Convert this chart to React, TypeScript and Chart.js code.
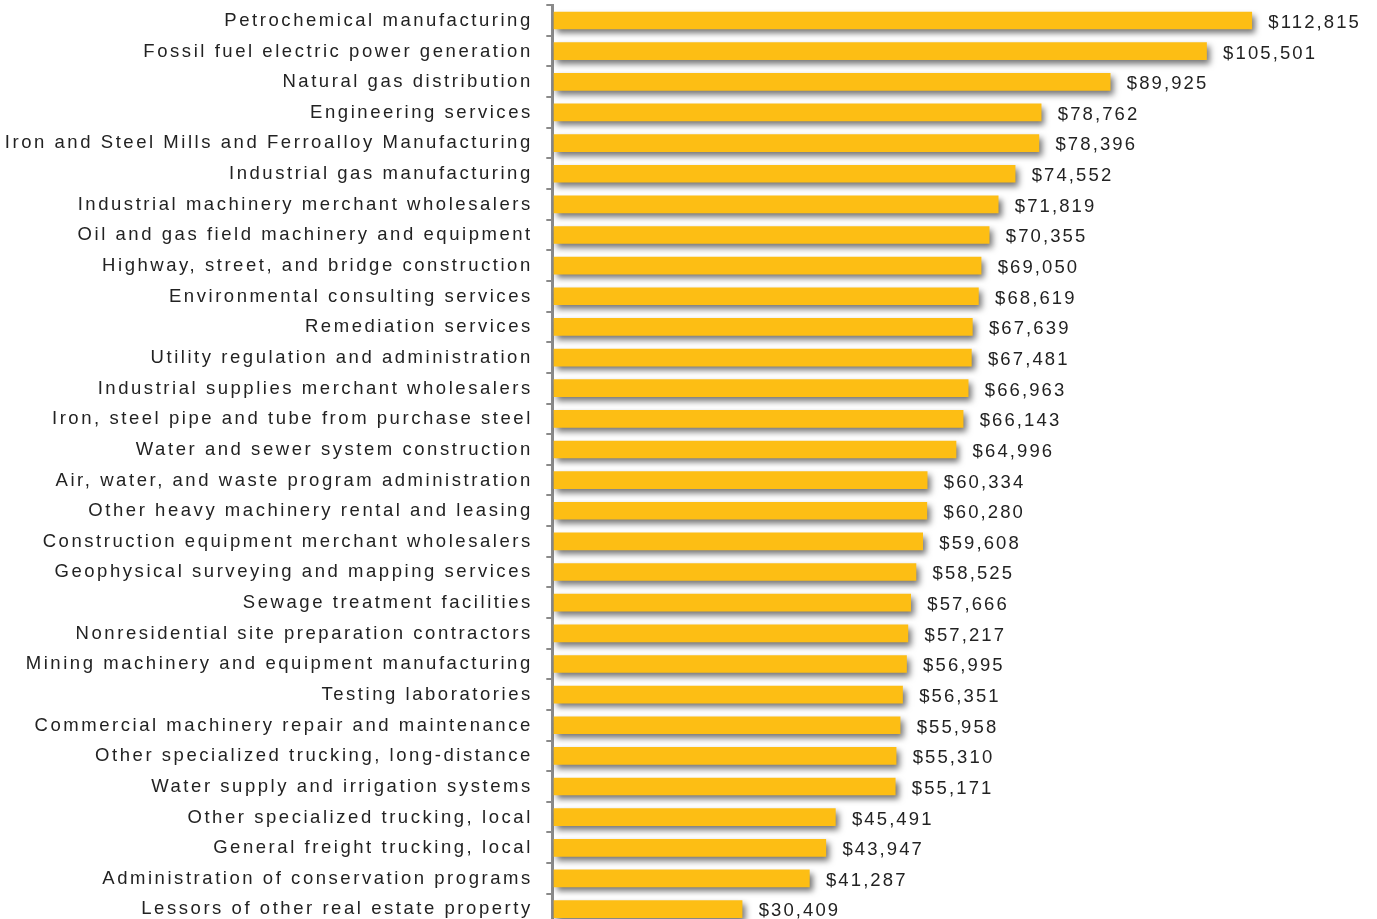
import React, { useEffect, useRef } from 'react';
import { Chart, registerables } from 'chart.js';

Chart.register(...registerables);

const categories = [
  'Petrochemical manufacturing',
  'Fossil fuel electric power generation',
  'Natural gas distribution',
  'Engineering services',
  'Iron and Steel Mills and Ferroalloy Manufacturing',
  'Industrial gas manufacturing',
  'Industrial machinery merchant wholesalers',
  'Oil and gas field machinery and equipment',
  'Highway, street, and bridge construction',
  'Environmental consulting services',
  'Remediation services',
  'Utility regulation and administration',
  'Industrial supplies merchant wholesalers',
  'Iron, steel pipe and tube from purchase steel',
  'Water and sewer system construction',
  'Air, water, and waste program administration',
  'Other heavy machinery rental and leasing',
  'Construction equipment merchant wholesalers',
  'Geophysical surveying and mapping services',
  'Sewage treatment facilities',
  'Nonresidential site preparation contractors',
  'Mining machinery and equipment manufacturing',
  'Testing laboratories',
  'Commercial machinery repair and maintenance',
  'Other specialized trucking, long-distance',
  'Water supply and irrigation systems',
  'Other specialized trucking, local',
  'General freight trucking, local',
  'Administration of conservation programs',
  'Lessors of other real estate property',
];

const wages = [
  112815, 105501, 89925, 78762, 78396, 74552, 71819, 70355, 69050, 68619,
  67639, 67481, 66963, 66143, 64996, 60334, 60280, 59608, 58525, 57666,
  57217, 56995, 56351, 55958, 55310, 55171, 45491, 43947, 41287, 30409,
];

const xMin = -275;
const xMax = 120000;

const FONT = '"Liberation Sans", Arial, Helvetica, sans-serif';
const TEXT = '#222222';
const AXIS = '#8a8a8a';
const BAR = '#FDBE14';

const fmt = (v: number) => '$' + v.toLocaleString('en-US');

export default function App() {
  const ref = useRef<HTMLCanvasElement>(null);

  useEffect(() => {
    const canvas = ref.current;
    if (!canvas) return;

    const shadowPlugin = {
      id: 'barShadow',
      beforeDatasetDraw(chart: any) {
        const ctx = chart.ctx;
        ctx.save();
        ctx.shadowColor = 'rgba(0,0,0,0.55)';
        ctx.shadowBlur = 6;
        ctx.shadowOffsetX = 3;
        ctx.shadowOffsetY = 4;
      },
      afterDatasetDraw(chart: any) {
        chart.ctx.restore();
      },
    };

    const spacingPlugin = {
      id: 'spacing',
      beforeDraw(chart: any) {
        (chart.ctx as any).letterSpacing = '2.55px';
      },
      afterDraw(chart: any) {
        (chart.ctx as any).letterSpacing = '0px';
      },
    };

    const valueLabels = {
      id: 'valueLabels',
      afterDatasetsDraw(chart: any) {
        const ctx = chart.ctx;
        const meta = chart.getDatasetMeta(0);
        ctx.save();
        (ctx as any).letterSpacing = '2.1px';
        ctx.font = `18.5px ${FONT}`;
        ctx.fillStyle = TEXT;
        ctx.textAlign = 'left';
        ctx.textBaseline = 'middle';
        meta.data.forEach((bar: any, i: number) => {
          ctx.fillText(fmt(wages[i]), bar.x + 16.6, bar.y + 2.3);
        });
        ctx.restore();
        (ctx as any).letterSpacing = '2.55px';
      },
    };

    const chart = new Chart(canvas, {
      type: 'bar',
      data: {
        labels: categories,
        datasets: [
          {
            data: wages,
            backgroundColor: BAR,
            borderWidth: 0,
            barThickness: 17,
          },
        ],
      },
      options: {
        indexAxis: 'y',
        responsive: false,
        animation: false,
        devicePixelRatio: 1,
        layout: { padding: { top: 5.2, bottom: 5.6, left: 0, right: 80.8 } },
        plugins: {
          legend: { display: false },
          tooltip: { enabled: false },
          title: { display: false },
        },
        scales: {
          x: {
            display: false,
            min: xMin,
            max: xMax,
          },
          y: {
            afterFit: (scale: any) => {
              scale.width = 552.3;
              scale.paddingTop = 0;
              scale.paddingBottom = 0;
            },
            border: { display: true, color: AXIS, width: 3 },
            grid: {
              offset: true,
              drawOnChartArea: false,
              drawTicks: true,
              tickLength: 6,
              color: AXIS,
              lineWidth: 2,
            },
            ticks: {
              autoSkip: false,
              padding: 13.5,
              labelOffset: 0.3,
              color: TEXT,
              font: { family: FONT, size: 18.5 },
            },
          },
        },
      },
      plugins: [spacingPlugin, shadowPlugin, valueLabels],
    } as any);

    return () => chart.destroy();
  }, []);

  return (
    <div
      style={{
        position: 'fixed',
        left: 0,
        top: 0,
        width: 1377,
        height: 919,
        overflow: 'hidden',
        background: '#ffffff',
      }}
    >
      <canvas
        ref={ref}
        width={1377}
        height={930}
        style={{ display: 'block', width: 1377, height: 930 }}
      />
    </div>
  );
}
